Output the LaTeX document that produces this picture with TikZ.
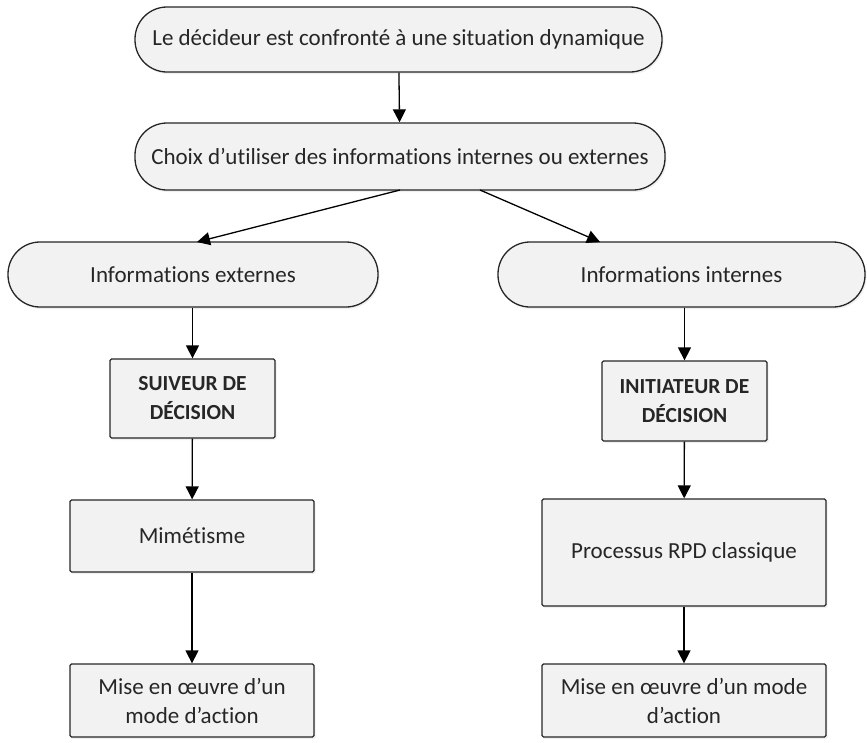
\documentclass[tikz,border=0pt]{standalone}
\usepackage{fontspec}
\setmainfont{Carlito}[Ligatures={NoCommon}]
\usetikzlibrary{arrows.meta,shadows}
\definecolor{boxfill}{HTML}{F2F2F2}
\definecolor{txt}{HTML}{262626}
\tikzset{
  base/.style={draw=black!85, line width=1.3pt, fill=boxfill, text=txt, align=center,
    font=\fontsize{23}{29}\selectfont, inner sep=0pt,
    drop shadow={opacity=0.12, shadow xshift=1.5pt, shadow yshift=-2pt}},
  pill/.style={base, rounded corners=32pt},
  boxa/.style={base, rounded corners=1.5pt},
  boldtxt/.style={font=\fontsize{21.5}{29}\selectfont\bfseries},
  conn/.style={line width=1.3pt, draw=black, -{Triangle[length=13pt,width=13pt]}}
}
\begin{document}
\begin{tikzpicture}[x=1pt,y=-1pt]
\useasboundingbox (0,0) rectangle (867,742);
\node[pill, minimum width=527pt, minimum height=65pt] (top) at (398.5,39.5) {Le décideur est confronté à une situation dynamique};
\node[pill, minimum width=530pt, minimum height=67pt] (choix) at (400,156.5) {Choix d’utiliser des informations internes ou externes};
\node[pill, minimum width=370pt, minimum height=65pt] (ext) at (193,274.5) {Informations externes};
\node[pill, minimum width=367pt, minimum height=65pt] (int) at (681.5,274.5) {Informations internes};
\node[boxa, boldtxt, minimum width=165pt, minimum height=79pt] (suiv) at (192.5,398.5) {SUIVEUR DE\\DÉCISION};
\node[boxa, boldtxt, minimum width=165pt, minimum height=80pt] (init) at (684.5,401) {INITIATEUR DE\\DÉCISION};
\node[boxa, minimum width=244pt, minimum height=72pt] (mim) at (192,536) {Mimétisme};
\node[boxa, minimum width=284pt, minimum height=107pt] (rpd) at (684,552.5) {Processus RPD classique};
\node[boxa, minimum width=244pt, minimum height=73pt] (misel) at (192,700.5) {Mise en œuvre d’un\\mode d’action};
\node[boxa, minimum width=284pt, minimum height=73pt] (miser) at (684,700.5) {Mise en œuvre d’un mode\\d’action};
\coordinate (cl) at (400,190);
\coordinate (cr) at (480,190);
\draw[conn] (top) -- (choix);
\draw[conn] (cl) -- (197,242);
\draw[conn] (cr) -- (600,242);
\draw[conn] (ext.south -| suiv) -- (suiv);
\draw[conn] (int.south -| init) -- (init);
\draw[conn] (suiv) -- (mim);
\draw[conn] (init) -- (rpd);
\draw[conn] (mim) -- (misel);
\draw[conn] (rpd) -- (miser);
\end{tikzpicture}
\end{document}
